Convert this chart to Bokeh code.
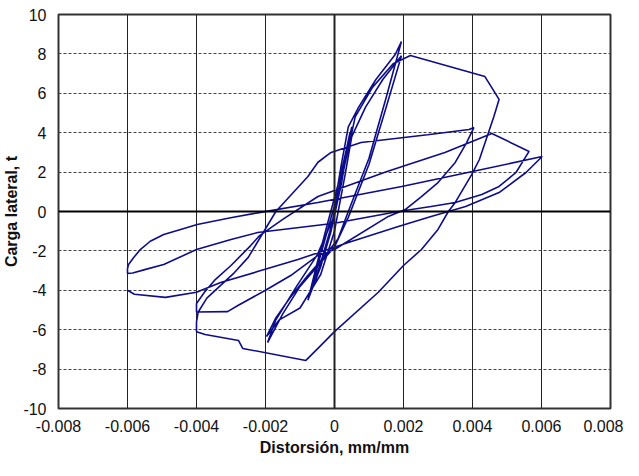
from bokeh.plotting import figure
from bokeh.models import FixedTicker, Span, CustomJSTickFormatter
from bokeh.embed import file_html
from bokeh.resources import INLINE

x_ticks = [-0.008, -0.006, -0.004, -0.002, 0.0, 0.002, 0.004, 0.006, 0.008]
y_ticks = [-10, -8, -6, -4, -2, 0, 2, 4, 6, 8, 10]

# small elastic cycles
small_x = [0.0, 0.0002, 0.0005, 0.0002, -0.0001, -0.0004, -0.00077, -0.0005, -0.0002,
           0.0002, 0.00045, 0.0002, -0.0001, -0.0004, -0.00075, -0.0004, 0.0]
small_y = [0.0, 1.8, 4.3, 1.6, -0.8, -2.6, -4.5, -2.6, -0.6,
           2.0, 4.0, 1.4, -1.0, -2.8, -4.4, -2.2, 0.3]

# cycles at +/-0.002
c2_x = [0.0002, 0.0004, 0.0007, 0.0012, 0.00176, 0.00194,
        0.0015, 0.001, 0.0004, 0.0001, -0.0003, -0.0008, -0.0013, -0.0017, -0.00197,
        -0.0016, -0.001, -0.0004, 0.0, 0.0003, 0.0005, 0.0009, 0.0014, 0.00194,
        0.0015, 0.001, 0.0004, 0.0, -0.0004, -0.001, -0.0015, -0.00194,
        -0.0017, -0.0011, -0.0005, 0.0, 0.0003, 0.0006, 0.0011, 0.0017, 0.0022]
c2_y = [2.4, 4.3, 5.3, 6.7, 7.97, 8.63,
        5.8, 2.7, 0.0, -1.4, -2.3, -3.3, -4.4, -5.4, -6.35,
        -5.5, -4.9, -3.2, -1.0, 1.8, 3.8, 5.3, 6.7, 7.9,
        5.3, 2.4, -0.3, -1.8, -2.6, -3.8, -5.2, -6.65,
        -5.5, -3.8, -2.2, -0.2, 2.4, 4.8, 6.3, 7.5, 7.92]

# large excursion and return to -0.004
c3_x = [0.00436, 0.00477, 0.00462, 0.0042, 0.00398, 0.0035, 0.0033, 0.003, 0.00252,
        0.002, 0.00127, 0.0, -0.00048, -0.00083, -0.00266, -0.00278, -0.00375, -0.004]
c3_y = [6.85, 5.69, 4.82, 2.64, 1.88, 0.46, 0.0, -0.91, -1.93,
        -2.74, -4.1, -6.1, -6.95, -7.56, -6.95, -6.55, -6.24, -6.1]

# cycle at +/-0.004
c4_x = [-0.004, -0.00395, -0.0037, -0.0033, -0.0029, -0.0025, -0.0017, -0.00077,
        -0.00048, -0.0001, 0.00077, 0.0027, 0.0039, 0.00404,
        0.00383, 0.0035, 0.003, 0.00252, 0.00205, 0.00156, 0.0, -0.00048, -0.00127,
        -0.002, -0.0028, -0.0031, -0.004,
        -0.004, -0.00377, -0.00348, -0.003, -0.00243, -0.00217, -0.0015]
c4_y = [-5.6, -5.1, -4.4, -3.75, -3.1, -2.33, 0.0, 1.78,
        2.5, 3.0, 3.5, 3.9, 4.16, 4.26,
        3.5, 2.49, 1.47, 0.76, 0.1, -0.25, -1.93, -2.23, -3.25,
        -4.0, -4.77, -5.08, -5.1,
        -4.67, -4.1, -3.5, -2.74, -1.73, -1.22, -0.4]

# cycles at +/-0.006
c5_x = [-0.00048, 0.00148, 0.0032, 0.00456, 0.00564,
        0.00526, 0.00477, 0.00427, 0.0035, 0.0028, 0.00185, 0.0, -0.00223, -0.003,
        -0.004, -0.00495, -0.0055, -0.00585, -0.006, -0.006,
        -0.00597, -0.00582, -0.00563, -0.00534, -0.00495, -0.00446, -0.00398, -0.00301,
        -0.00223, -0.00048, 0.00195, 0.004, 0.00602,
        0.00555, 0.00477, 0.0038, 0.0028, 0.00185, 0.0004, -0.00106, -0.00223, -0.0033,
        -0.004, -0.0049, -0.0058, -0.006]
c5_y = [0.76, 2.0, 3.0, 3.96, 3.05,
        1.98, 1.27, 0.86, 0.46, 0.25, 0.0, -0.6, -1.07, -1.42,
        -1.93, -2.69, -2.95, -3.12, -3.15, -2.89,
        -2.69, -2.34, -1.93, -1.51, -1.17, -0.91, -0.66, -0.32,
        -0.07, 0.46, 1.27, 2.03, 2.79,
        1.98, 0.96, 0.25, -0.25, -0.76, -1.57, -2.44, -3.05, -3.6,
        -4.1, -4.36, -4.2, -4.0]

drift = small_x + c2_x + c3_x + c4_x + c5_x
load = small_y + c2_y + c3_y + c4_y + c5_y

p = figure(width=623, height=460, x_range=(-0.008, 0.008), y_range=(-10, 10),
           output_backend="svg", toolbar_location=None,
           min_border_left=54, min_border_right=13, min_border_top=14, min_border_bottom=52)
p.background_fill_color = "white"
p.border_fill_color = "white"
p.outline_line_color = "#333333"
p.outline_line_width = 2

p.xaxis.ticker = FixedTicker(ticks=x_ticks)
p.yaxis.ticker = FixedTicker(ticks=y_ticks)
p.xaxis.formatter = CustomJSTickFormatter(code="""
if (Math.abs(tick) < 1e-12) { return "0"; }
return tick.toFixed(3);
""")
p.yaxis.formatter = CustomJSTickFormatter(code="""
return Math.round(tick).toString();
""")

for ax in (p.xaxis, p.yaxis):
    ax.axis_line_color = None
    ax.major_tick_line_color = None
    ax.minor_tick_line_color = None
    ax.major_tick_out = 0
    ax.major_tick_in = 0
    ax.minor_tick_out = 0
    ax.minor_tick_in = 0
    ax.major_label_text_font = "Liberation Sans"
    ax.major_label_text_font_size = "16px"
    ax.major_label_text_color = "#111111"
    ax.axis_label_text_font = "Liberation Sans"
    ax.axis_label_text_font_size = "16px"
    ax.axis_label_text_font_style = "bold"
    ax.axis_label_text_color = "#111111"

p.xaxis.axis_label = "Distorsión, mm/mm"
p.yaxis.axis_label = "Carga lateral, t"
p.xaxis.major_label_standoff = 11
p.yaxis.major_label_standoff = 12
p.xaxis.axis_label_standoff = 4
p.yaxis.axis_label_standoff = 0

p.xgrid.grid_line_color = "#222222"
p.xgrid.grid_line_width = 1
p.ygrid.grid_line_color = "#444444"
p.ygrid.grid_line_dash = "3 2"
p.ygrid.grid_line_width = 1

p.add_layout(Span(location=0, dimension="width", line_color="black", line_width=2))
p.add_layout(Span(location=0, dimension="height", line_color="#222222", line_width=2))

p.line(drift, load, line_color="#0d0d8a", line_width=1.6)

open("out.html", "w").write(file_html(p, INLINE))
